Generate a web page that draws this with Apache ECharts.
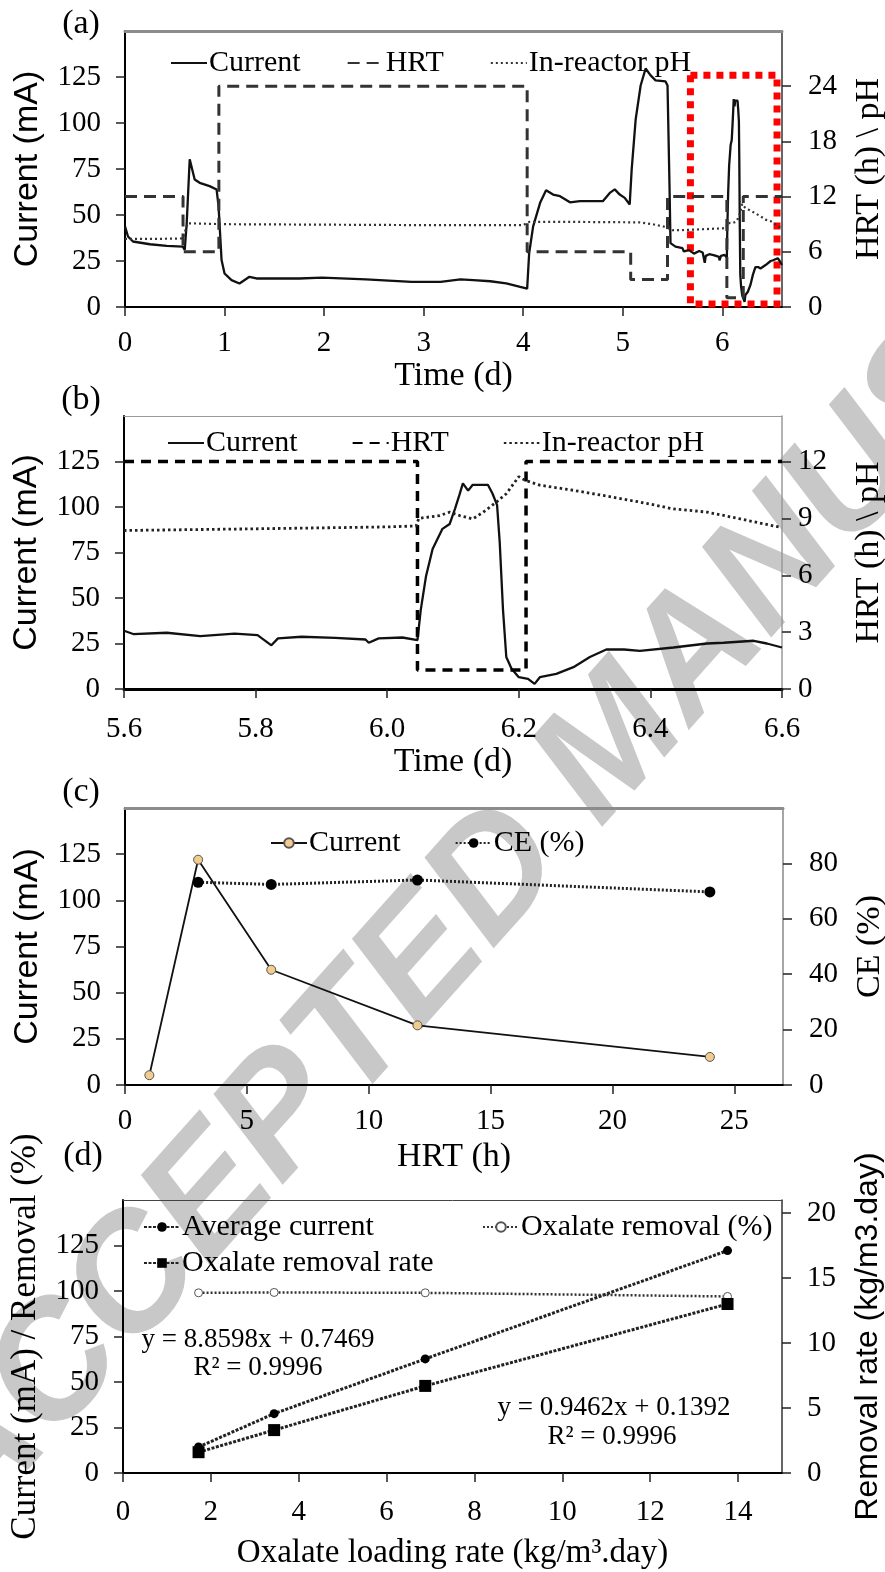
<!DOCTYPE html>
<html>
<head>
<meta charset="utf-8">
<script src="https://cdn.jsdelivr.net/npm/echarts@6/dist/echarts.min.js"></script>
<style>
  html, body { margin: 0; padding: 0; background: #fff; }
  #chart { width: 885px; height: 1572px; }
</style>
</head>
<body>
<div id="chart"></div>
<script>
// (a) 0 - 5.6 d, the rest is shared with (b)
const aCurT = [0, 0.03, 0.08, 0.25, 0.42, 0.58, 0.6, 0.62, 0.65, 0.667, 0.7, 0.75, 0.85, 0.92, 0.94, 0.97, 1.0, 1.07, 1.15, 1.25, 1.32, 1.75, 1.98, 2.42, 2.88, 3.17, 3.37, 3.5, 3.67, 3.83, 3.97, 4.04, 4.06, 4.1, 4.17, 4.23, 4.3, 4.37, 4.47, 4.57, 4.8, 4.87, 4.92, 4.97, 5.02, 5.07, 5.09, 5.13, 5.18, 5.23, 5.28, 5.33, 5.43, 5.45, 5.47, 5.48, 5.53];
const aCurV = [43.8, 38.3, 35.6, 34.1, 33.2, 32.8, 31, 45.6, 80.3, 80, 69.3, 67.5, 65.7, 63.9, 54.7, 25.5, 18.2, 14.6, 12.8, 16.4, 15.5, 15.5, 16, 15, 13.7, 13.7, 15, 14.6, 14, 12.8, 10.9, 10, 29.2, 43.8, 56.6, 63.5, 61.1, 60.2, 56.9, 57.5, 57.5, 62, 63.9, 61.1, 59.3, 55.7, 74.8, 102, 120.4, 129.6, 125.9, 123.2, 122.6, 120.4, 65.7, 34.7, 32.8];
const aHrtT = [0, 0.583, 0.583, 0.943, 0.943, 4.04, 4.04, 5.08, 5.08, 5.45, 5.45];
const aHrtV = [12, 12, 6, 6, 24, 24, 6, 6, 3, 3, 12];
const aPhT = [0, 0.3, 0.58, 0.63, 1, 2, 3, 4.0, 4.06, 4.5, 5.17, 5.3, 5.43, 5.5];
const aPhV = [7.4, 7.4, 7.45, 9.1, 9.0, 8.95, 8.9, 8.9, 9.25, 9.25, 9.2, 9.0, 8.7, 8.35];

// (b) 5.6 - 6.6 d
const bCurT = [5.6, 5.614, 5.665, 5.716, 5.768, 5.803, 5.824, 5.834, 5.87, 5.921, 5.967, 5.972, 5.987, 6.023, 6.046, 6.051, 6.059, 6.069, 6.084, 6.095, 6.103, 6.11, 6.115, 6.123, 6.13, 6.153, 6.16, 6.167, 6.171, 6.176, 6.181, 6.189, 6.2, 6.214, 6.224, 6.232, 6.257, 6.283, 6.308, 6.333, 6.36, 6.384, 6.435, 6.486, 6.511, 6.557, 6.577, 6.6];
const bCurV = [32, 30.2, 30.9, 29, 30.4, 29.6, 24, 27.8, 28.7, 28.1, 27.2, 25.4, 27.8, 28.3, 26.9, 43.5, 62, 76.9, 88, 90.7, 99, 106.9, 113, 109, 112.2, 112.2, 107.4, 101, 80.6, 43.5, 17.6, 11.1, 6.5, 5.6, 2.8, 6.5, 8.3, 12, 17.6, 21.7, 21.7, 20.9, 22.8, 25, 25.4, 26.5, 25, 22.8];
const bHrtT = [5.6, 6.046, 6.046, 6.211, 6.211, 6.6];
const bHrtV = [12, 12, 1, 1, 12, 12];
const bPhT = [5.6, 5.8, 6.0, 6.044, 6.048, 6.08, 6.095, 6.11, 6.13, 6.146, 6.166, 6.181, 6.2, 6.21, 6.232, 6.283, 6.333, 6.384, 6.435, 6.486, 6.537, 6.597];
const bPhV = [8.36, 8.45, 8.55, 8.6, 9.0, 9.15, 9.33, 9.15, 8.97, 9.33, 9.86, 10.3, 11.2, 11.0, 10.75, 10.48, 10.18, 9.86, 9.5, 9.33, 8.97, 8.53];

// (c) HRT sweep
const cHrt = [1, 3, 6, 12, 24];
const cCurrent = [5.3, 122, 62.4, 32.3, 15.2];
const cCeHrt = [3, 6, 12, 24];
const cCe = [73.2, 72.4, 74, 69.7];

// (d) loading rate
const dLoading = [1.72, 3.44, 6.88, 13.76];
const dAvgCurrent = [14.3, 32.6, 62.7, 122.2];
const dRemovalPct = [99, 99.2, 99, 97];
const dRemovalRate = [1.6, 3.3, 6.7, 13.0];

const zip = (xs, ys) => xs.map((x, i) => [x, ys[i]]);
const serif = "'Liberation Serif', 'Times New Roman', serif";
const sans = "'Liberation Sans', Arial, sans-serif";

const tickFont = { fontFamily: serif, fontSize: 29, color: '#000' };
const nameFont = (f, s) => ({ fontFamily: f, fontSize: s, color: '#000' });

function bottomX(grid, min, max, interval, name, gap, extra) {
    return Object.assign({
        type: 'value', gridIndex: grid, min: min, max: max, interval: interval,
        name: name, nameLocation: 'middle', nameGap: gap,
        nameTextStyle: nameFont(serif, 34),
        axisLine: { onZero: false, lineStyle: { color: '#000', width: 2 } },
        axisTick: { length: 9, lineStyle: { color: '#222', width: 1.5 } },
        axisLabel: Object.assign({ margin: 22, showMaxLabel: false }, tickFont),
        splitLine: { show: false }
    }, extra || {});
}
function topX(grid, min, max, color, width) {
    return {
        type: 'value', gridIndex: grid, position: 'top', min: min, max: max,
        axisLine: { onZero: false, lineStyle: { color: color, width: width } },
        axisTick: { show: false }, axisLabel: { show: false }, splitLine: { show: false }
    };
}
function leftY(grid, name, font, size, gap) {
    return {
        type: 'value', gridIndex: grid, position: 'left', min: 0, max: 150, interval: 25,
        name: name, nameLocation: 'middle', nameRotate: 90, nameGap: gap,
        nameTextStyle: nameFont(font, size),
        axisLine: { show: true, onZero: false, lineStyle: { color: '#000', width: 2 } },
        axisTick: { show: true, length: 9, lineStyle: { color: '#222', width: 1.5 } },
        axisLabel: Object.assign({ margin: 24, showMaxLabel: false }, tickFont),
        splitLine: { show: false }
    };
}
function rightY(grid, max, interval, name, font, size, gap, margin, color) {
    return {
        type: 'value', gridIndex: grid, position: 'right', min: 0, max: max, interval: interval,
        name: name, nameLocation: 'middle', nameRotate: 90, nameGap: gap,
        nameTextStyle: nameFont(font, size),
        axisLine: { show: true, onZero: false, lineStyle: { color: color, width: 1.5 } },
        axisTick: { show: true, length: 9, lineStyle: { color: '#222', width: 1.5 } },
        axisLabel: Object.assign({ margin: margin, showMaxLabel: false }, tickFont),
        splitLine: { show: false }
    };
}
function legend(left, top, names, gap, orient, noSymbol) {
    const l = {
        left: left, top: top, orient: orient || 'horizontal', data: names,
        itemWidth: 36, itemHeight: 12, itemGap: gap, selectedMode: false,
        textStyle: { fontFamily: serif, fontSize: 30, color: '#000', padding: [0, 0, 0, -3] },
        formatter: n => n.split(':')[1]
    };
    if (noSymbol) l.itemStyle = { color: 'rgba(0,0,0,0)', borderWidth: 0 };
    return l;
}
const label = (x, y, t) => ({
    type: 'text', x: x, y: y, z: 10,
    style: { text: t, font: '34px ' + serif, fill: '#000', align: 'center', verticalAlign: 'middle' }
});
const eq = (x, y, t) => ({
    type: 'text', x: x, y: y, z: 10,
    style: { text: t, font: '27px ' + serif, fill: '#000', align: 'center', verticalAlign: 'middle' }
});

const chart = echarts.init(document.getElementById('chart'), null, { renderer: 'canvas' });
chart.setOption({
    animation: false,
    backgroundColor: '#fff',
    grid: [
        { left: 125, top: 31, width: 657, height: 276, outerBoundsMode: 'none' },
        { left: 124, top: 416, width: 658, height: 273, outerBoundsMode: 'none' },
        { left: 125, top: 808, width: 658, height: 277, outerBoundsMode: 'none' },
        { left: 123, top: 1200, width: 659, height: 273, outerBoundsMode: 'none' }
    ],
    xAxis: [
        bottomX(0, 0, 6.6, 1, 'Time (d)', 50),
        bottomX(1, 5.6, 6.6, 0.2, 'Time (d)', 56, {
            axisLine: { onZero: false, lineStyle: { color: '#000', width: 3 } },
            axisLabel: Object.assign({ margin: 26, showMaxLabel: true, showMinLabel: true,
                formatter: v => v.toFixed(1) }, tickFont)
        }),
        bottomX(2, 0, 27, 5, 'HRT (h)', 55),
        bottomX(3, 0, 15, 2, 'Oxalate loading rate (kg/m\u00b3.day)', 64, {
            nameTextStyle: nameFont(serif, 33),
            axisLabel: Object.assign({ margin: 25, showMaxLabel: false }, tickFont)
        }),
        topX(0, 0, 6.6, '#8c8c8c', 3),
        topX(1, 5.6, 6.6, '#9a9a9a', 1),
        topX(2, 0, 27, '#8c8c8c', 3),
        topX(3, 0, 15, '#444', 1)
    ],
    yAxis: [
        leftY(0, 'Current (mA)', sans, 34, 80),
        rightY(0, 30, 6, 'HRT (h) \\ pH', serif, 34, 70, 26, '#333'),
        leftY(1, 'Current (mA)', sans, 34, 80),
        rightY(1, 14.4, 3, 'HRT (h) \\ pH', serif, 34, 70, 16, '#999'),
        leftY(2, 'Current (mA)', sans, 34, 80),
        rightY(2, 100, 20, 'CE (%)', serif, 34, 70, 26, '#888'),
        leftY(3, 'Current (mA) / Removal (%)', serif, 35, 80),
        rightY(3, 21, 5, 'Removal rate (kg/m3.day)', sans, 32, 70, 25, '#333')
    ],
    legend: [
        legend(165, 43, ['a:Current', 'a:HRT', 'a:In-reactor pH'], 46, 'horizontal', true),
        legend(162, 423, ['b:Current', 'b:HRT', 'b:In-reactor pH'], 54, 'horizontal', true),
        legend(265, 823, ['c:Current', 'c:CE (%)'], 54),
        legend(138, 1207, ['d:Average current', 'd:Oxalate removal rate'], 6, 'vertical'),
        legend(477, 1207, ['d:Oxalate removal (%)'], 10)
    ],
    graphic: [
        {
            type: 'text', x: 615, y: 745, rotation: 0.842, z: -10, silent: true,
            style: { text: 'ACCEPTED MANUSCRIPT', font: 'italic bold 163px ' + sans,
                fill: '#c8c8c8', align: 'center', verticalAlign: 'middle' }
        },
        label(81, 24, '(a)'),
        label(81, 400, '(b)'),
        label(81, 792, '(c)'),
        label(83, 1156, '(d)'),
        eq(258, 1340, 'y = 8.8598x + 0.7469'),
        eq(258, 1368, 'R\u00b2 = 0.9996'),
        eq(614, 1408, 'y = 0.9462x + 0.1392'),
        eq(612, 1437, 'R\u00b2 = 0.9996')
    ],
    series: [
        {
            name: 'a:Current', type: 'line', xAxisIndex: 0, yAxisIndex: 0, symbol: 'none',
            data: zip(aCurT.concat(bCurT), aCurV.concat(bCurV)),
            lineStyle: { color: '#111', width: 2.3 }, itemStyle: { color: '#111' },
            markArea: {
                silent: true,
                itemStyle: { color: 'rgba(0,0,0,0)', borderColor: '#ff0000', borderWidth: 7, borderType: [7, 6] },
                data: [[{ xAxis: 5.68, yAxis: 126 }, { xAxis: 6.55, yAxis: 1.6 }]]
            }
        },
        {
            name: 'a:HRT', type: 'line', xAxisIndex: 0, yAxisIndex: 1, symbol: 'none',
            data: zip(aHrtT.concat(bHrtT), aHrtV.concat(bHrtV)),
            lineStyle: { color: '#333', width: 3, type: [12, 7] }, itemStyle: { color: '#333' }
        },
        {
            name: 'a:In-reactor pH', type: 'line', xAxisIndex: 0, yAxisIndex: 1, symbol: 'none',
            data: zip(aPhT.concat(bPhT), aPhV.concat(bPhV)),
            lineStyle: { color: '#333', width: 2.2, type: [2, 3] }, itemStyle: { color: '#333' }
        },
        {
            name: 'b:Current', type: 'line', xAxisIndex: 1, yAxisIndex: 2, symbol: 'none',
            data: zip(bCurT, bCurV),
            lineStyle: { color: '#111', width: 2.3 }, itemStyle: { color: '#111' }
        },
        {
            name: 'b:HRT', type: 'line', xAxisIndex: 1, yAxisIndex: 3, symbol: 'none',
            data: zip(bHrtT, bHrtV),
            lineStyle: { color: '#000', width: 3.5, type: [10, 7] }, itemStyle: { color: '#000' }
        },
        {
            name: 'b:In-reactor pH', type: 'line', xAxisIndex: 1, yAxisIndex: 3, symbol: 'none',
            data: zip(bPhT, bPhV),
            lineStyle: { color: '#222', width: 2.8, type: [2.5, 3] }, itemStyle: { color: '#222' }
        },
        {
            name: 'c:Current', type: 'line', xAxisIndex: 2, yAxisIndex: 4,
            symbol: 'circle', symbolSize: 9,
            data: zip(cHrt, cCurrent),
            lineStyle: { color: '#111', width: 1.8 },
            itemStyle: { color: '#f2cc8f', borderColor: '#555', borderWidth: 1 }
        },
        {
            name: 'c:CE (%)', type: 'line', xAxisIndex: 2, yAxisIndex: 5,
            symbol: 'circle', symbolSize: 11,
            data: zip(cCeHrt, cCe),
            lineStyle: { color: '#222', width: 3, type: [2, 2] },
            itemStyle: { color: '#000' }
        },
        {
            name: 'd:Average current', type: 'line', xAxisIndex: 3, yAxisIndex: 6,
            symbol: 'circle', symbolSize: 9,
            data: zip(dLoading, dAvgCurrent),
            lineStyle: { color: '#222', width: 3, type: [3, 1.5] },
            itemStyle: { color: '#000' }
        },
        {
            name: 'd:Oxalate removal (%)', type: 'line', xAxisIndex: 3, yAxisIndex: 6,
            symbol: 'circle', symbolSize: 8,
            data: zip(dLoading, dRemovalPct),
            lineStyle: { color: '#333', width: 2.5, type: [2, 2] },
            itemStyle: { color: '#fff', borderColor: '#555', borderWidth: 1 }
        },
        {
            name: 'd:Oxalate removal rate', type: 'line', xAxisIndex: 3, yAxisIndex: 7,
            symbol: 'rect', symbolSize: 12,
            data: zip(dLoading, dRemovalRate),
            lineStyle: { color: '#222', width: 3, type: [3, 1.5] },
            itemStyle: { color: '#000' }
        }
    ]
});
</script>
</body>
</html>
